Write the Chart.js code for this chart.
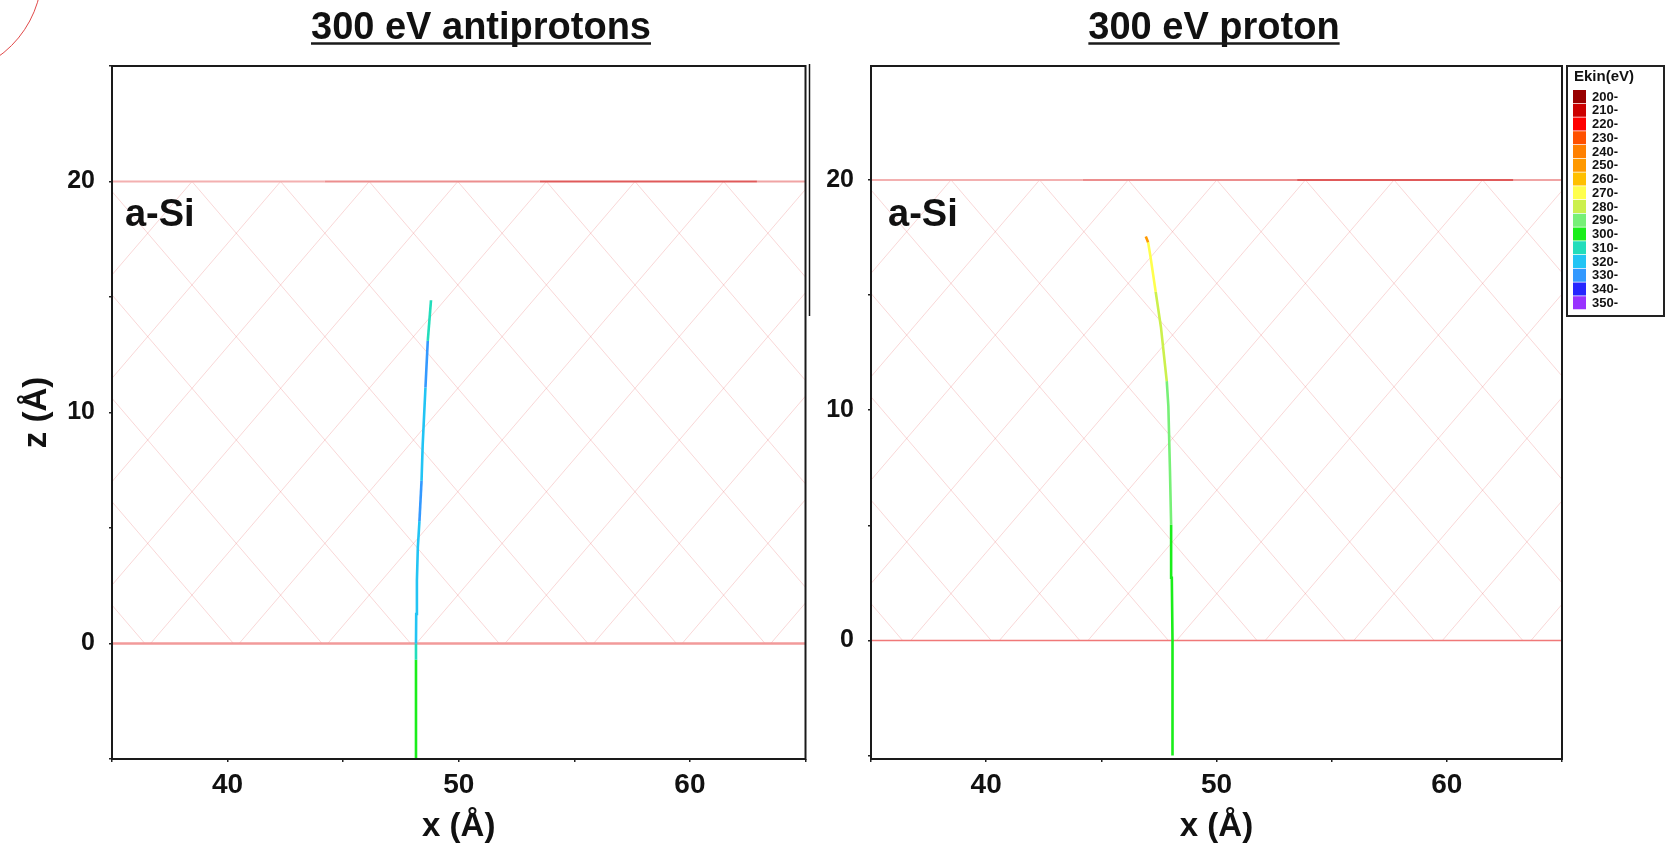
<!DOCTYPE html>
<html>
<head>
<meta charset="utf-8">
<script src="https://cdn.jsdelivr.net/npm/chart.js@4.4.0/dist/chart.umd.min.js"></script>
<style>
    html, body { margin: 0; padding: 0; background: #fff; }
    body { width: 1666px; height: 848px; position: relative; overflow: hidden; }
    .panel { position: absolute; top: 0; height: 848px; }
    #left { left: 0; width: 820px; }
    #right { left: 820px; width: 846px; }
</style>
</head>
<body>
<div class="panel" id="left"><canvas id="antiChart"></canvas></div>
<div class="panel" id="right"><canvas id="protonChart"></canvas></div>
<script>
const FONT = '"Liberation Sans", Arial, sans-serif';

// Ekin colour scale (legend on the right)
const ekinLabels = ['200-', '210-', '220-', '230-', '240-', '250-', '260-', '270-',
                    '280-', '290-', '300-', '310-', '320-', '330-', '340-', '350-'];
const ekinLevels = [200, 210, 220, 230, 240, 250, 260, 270, 280, 290, 300, 310, 320, 330, 340, 350];
const ekinColors = ['#990000', '#cc0000', '#ff0000', '#ff5000', '#ff8000', '#ff9900', '#ffc000', '#ffff4d',
                    '#ccf04d', '#77f077', '#1aee1a', '#22ddbb', '#22c4f4', '#3399ff', '#2626ff', '#9933ff'];

// axes
const xMin = 35, xMax = 65;
const xTicks = [40, 50, 60];
const zTicks = [0, 10, 20];

// 300 eV antiproton trajectory (bottom -> top), Ekin per point in eV
const antiX = [48.15, 48.15, 48.15, 48.16, 48.19, 48.23, 48.30, 48.39, 48.44, 48.49, 48.56, 48.59, 48.66, 48.80];
const antiZ = [-5.0, -0.7, 0.0, 1.28, 2.72, 4.16, 5.3, 7.04, 8.6, 9.64, 11.08, 11.7, 13.1, 14.86];
const antiE = [300, 310, 320, 320, 320, 320, 330, 320, 320, 320, 330, 330, 310, 310];

// 300 eV proton trajectory (bottom -> top)
const protX = [48.09, 48.09, 48.06, 48.03, 47.98, 47.91, 47.84, 47.59, 47.36, 47.13, 47.03, 46.93];
const protZ = [-5.0, 0.0, 2.72, 5.04, 7.37, 10.17, 11.26, 13.59, 15.14, 16.69, 17.3, 17.54];
const protE = [300, 300, 300, 290, 290, 290, 280, 280, 270, 270, 250, 250];

// a-Si slab surfaces
const surfaceX = [35, 44.2, 53.5, 62.9, 65];
const surfaceTopZ = [20, 20, 20, 20, 20];
const surfaceBottomZ = [0, 0, 0, 0, 0];
const surfaceTopColors = ['#f3b0b0', '#ec8e8e', '#e05a5a', '#f0a4a4'];

function ekinColor(e) {
    let idx = 0;
    ekinLevels.forEach((lv, i) => { if (e >= lv) idx = i; });
    return ekinColors[idx];
}

function points(xs, zs) {
    return xs.map((x, i) => ({ x: x, y: zs[i] }));
}

// diagonal cross hatch inside the slab
const hatchPlugin = {
    id: 'hatch',
    beforeDatasetsDraw(chart) {
        const { ctx, chartArea: a, scales } = chart;
        const yTop = scales.y.getPixelForValue(surfaceTopZ[0]);
        const yBot = scales.y.getPixelForValue(surfaceBottomZ[0]);
        const run = (yBot - yTop) * 44.3 / 51.7;
        ctx.save();
        ctx.beginPath();
        ctx.rect(a.left, yTop, a.right - a.left, yBot - yTop);
        ctx.clip();
        ctx.strokeStyle = 'rgba(235, 110, 110, 0.28)';
        ctx.lineWidth = 1;
        ctx.beginPath();
        for (let x0 = a.left + 80 - 88.6 * 10; x0 < a.right + run; x0 += 88.6) {
            ctx.moveTo(x0, yTop); ctx.lineTo(x0 + run, yBot);
            ctx.moveTo(x0, yTop); ctx.lineTo(x0 - run, yBot);
        }
        ctx.stroke();
        ctx.restore();
    }
};

// frame, title, a-Si label, legend
const decorPlugin = {
    id: 'decor',
    afterDraw(chart, args, o) {
        const { ctx, chartArea: a, scales } = chart;
        ctx.save();
        ctx.strokeStyle = '#1a1a1a';
        ctx.lineWidth = 2;
        ctx.strokeRect(a.left, a.top, a.right - a.left, a.bottom - a.top);

        // title, underlined
        ctx.fillStyle = '#111';
        ctx.font = 'bold 38px ' + FONT;
        ctx.textAlign = 'center';
        ctx.textBaseline = 'alphabetic';
        ctx.fillText(o.title, o.titleX, 38.5);
        const w = ctx.measureText(o.title).width;
        ctx.lineWidth = 2.5;
        ctx.beginPath();
        ctx.moveTo(o.titleX - w / 2, 43.5);
        ctx.lineTo(o.titleX + w / 2, 43.5);
        ctx.stroke();

        // material label
        ctx.textAlign = 'left';
        ctx.fillText('a-Si', scales.x.getPixelForValue(o.labelX), scales.y.getPixelForValue(o.labelZ));

        if (o.extraLine) {
            ctx.lineWidth = 1.5;
            ctx.strokeStyle = '#111';
            ctx.beginPath();
            ctx.moveTo(a.right + 4, a.top - 2);
            ctx.lineTo(a.right + 4, 316);
            ctx.stroke();
            // stray red arc in the corner
            ctx.strokeStyle = '#e04848';
            ctx.lineWidth = 1;
            ctx.beginPath();
            ctx.arc(-62, -28, 104, 0, Math.PI / 2);
            ctx.stroke();
        }

        if (o.legend) {
            const L = a.right + 5, T = 66;
            ctx.fillStyle = '#fff';
            ctx.fillRect(L, T, 97, 250);
            ctx.strokeStyle = '#222';
            ctx.lineWidth = 2;
            ctx.strokeRect(L, T, 97, 250);
            ctx.fillStyle = '#111';
            ctx.font = 'bold 15px ' + FONT;
            ctx.textBaseline = 'middle';
            ctx.fillText('Ekin(eV)', L + 7, T + 11);
            ctx.font = 'bold 13px ' + FONT;
            ekinLabels.forEach((lab, i) => {
                const y = T + 24 + i * 13.75;
                ctx.fillStyle = ekinColors[i];
                ctx.fillRect(L + 6, y, 13, 13);
                ctx.fillStyle = '#111';
                ctx.fillText(lab, L + 25, y + 7);
            });
        }
        ctx.restore();
    }
};

function makeChart(id, p) {
    const yScale = {
        type: 'linear',
        min: p.zMin,
        max: p.zMax,
        afterFit: s => { s.width = p.yWidth; },
        border: { display: false },
        grid: { drawOnChartArea: false, tickLength: 3, color: '#222', lineWidth: 1.5 },
        ticks: {
            stepSize: 5,
            includeBounds: false,
            padding: 14,
            color: '#111',
            font: { family: FONT, size: 25, weight: 'bold' },
            callback: v => zTicks.includes(v) ? v : ''
        },
        title: {
            display: p.zTitle,
            text: 'z (Å)',
            color: '#111',
            padding: { top: 17, bottom: 0 },
            font: { family: FONT, size: 33, weight: 'bold' }
        }
    };
    return new Chart(document.getElementById(id), {
        type: 'scatter',
        data: {
            datasets: [
                {
                    data: points(p.trajX, p.trajZ),
                    showLine: true,
                    pointRadius: 0,
                    borderWidth: 2.6,
                    borderColor: ekinColor(p.trajE[0]),
                    segment: { borderColor: c => ekinColor(p.trajE[c.p0DataIndex]) }
                },
                {
                    data: points(surfaceX, surfaceTopZ),
                    showLine: true,
                    pointRadius: 0,
                    borderWidth: 2,
                    borderColor: surfaceTopColors[0],
                    segment: { borderColor: c => surfaceTopColors[c.p0DataIndex] }
                },
                {
                    data: points(surfaceX, surfaceBottomZ),
                    showLine: true,
                    pointRadius: 0,
                    borderWidth: p.bottomWidth,
                    borderColor: p.bottomColor
                }
            ]
        },
        options: {
            responsive: true,
            maintainAspectRatio: false,
            animation: false,
            layout: { padding: { left: 0, right: p.padRight, top: 66, bottom: 0 } },
            plugins: {
                legend: { display: false },
                tooltip: { enabled: false },
                decor: p.decor
            },
            scales: {
                x: {
                    type: 'linear',
                    min: xMin,
                    max: xMax,
                    afterFit: s => { s.height = 89; },
                    border: { display: false },
                    grid: { drawOnChartArea: false, tickLength: 3, color: '#222', lineWidth: 1.5 },
                    ticks: {
                        stepSize: 5,
                        includeBounds: false,
                        padding: 6,
                        maxRotation: 0,
                        autoSkip: false,
                        color: '#111',
                        font: { family: FONT, size: 28, weight: 'bold' },
                        callback: v => xTicks.includes(v) ? v : ''
                    },
                    title: {
                        display: true,
                        text: 'x (Å)',
                        color: '#111',
                        padding: { top: 0, bottom: 1 },
                        font: { family: FONT, size: 33, weight: 'bold' }
                    }
                },
                y: yScale
            }
        },
        plugins: [hatchPlugin, decorPlugin]
    });
}

makeChart('antiChart', {
    trajX: antiX, trajZ: antiZ, trajE: antiE,
    zMin: -5, zMax: 25, yWidth: 112, padRight: 14.5, zTitle: true,
    bottomWidth: 2.5, bottomColor: '#f29a9a',
    decor: { title: '300 eV antiprotons', titleX: 481, labelX: 35.56, labelZ: 18.08, extraLine: true, legend: false }
});

makeChart('protonChart', {
    trajX: protX, trajZ: protZ, trajE: protE,
    zMin: -5.15, zMax: 24.95, yWidth: 51, padRight: 104, zTitle: false,
    bottomWidth: 1.5, bottomColor: '#f07878',
    decor: { title: '300 eV proton', titleX: 394, labelX: 35.74, labelZ: 18.0, extraLine: false, legend: true }
});
</script>
</body>
</html>
